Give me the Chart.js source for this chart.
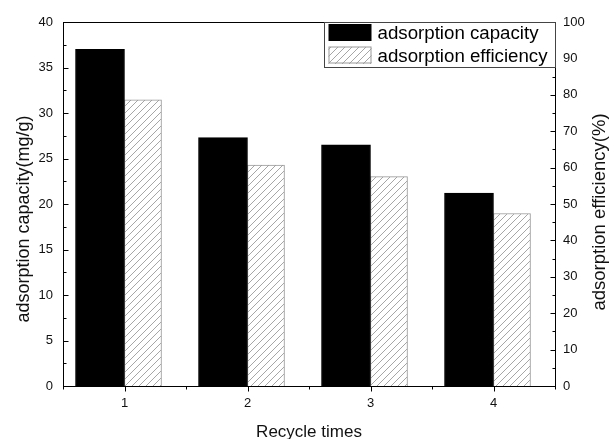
<!DOCTYPE html>
<html>
<head>
<meta charset="utf-8">
<script src="https://cdn.jsdelivr.net/npm/chart.js@4.4.0/dist/chart.umd.min.js"></script>
<style>
  html, body { margin: 0; padding: 0; background: #fff; }
  #wrap { width: 612px; height: 439px; }
</style>
</head>
<body>
<div id="wrap"><canvas id="recycle-plot" width="612" height="439"></canvas></div>
<script>
const recycleTimes = [1, 2, 3, 4];
const capacity = [37.0, 27.3, 26.5, 21.2];     // mg/g
const efficiency = [78.6, 60.7, 57.5, 47.4];   // %
const capacityTicks = [0, 5, 10, 15, 20, 25, 30, 35, 40];
const efficiencyTicks = [0, 10, 20, 30, 40, 50, 60, 70, 80, 90, 100];
const seriesNames = ['adsorption capacity', 'adsorption efficiency'];
const axisTitles = ['Recycle times', 'adsorption capacity(mg/g)', 'adsorption efficiency(%)'];

const FONT = "'Liberation Sans', Arial, sans-serif";
// bar widths in px; the solid bar sits left of the tick, the hatched one right of it
const SOLID_PX = 49, HATCH_PX = 37, CAT_PX = 123;

Chart.defaults.font.family = FONT;

function makeHatch() {
    const c = document.createElement('canvas');
    c.width = 7; c.height = 7;
    const g = c.getContext('2d');
    g.fillStyle = '#fff';
    g.fillRect(0, 0, 7, 7);
    g.strokeStyle = '#a6a6a6';
    g.lineWidth = 1;
    g.beginPath();
    g.moveTo(-1, 8); g.lineTo(8, -1);
    g.moveTo(-1, 1); g.lineTo(1, -1);
    g.moveTo(6, 8); g.lineTo(8, 6);
    g.stroke();
    return g.createPattern(c, 'repeat');
}
const hatch = makeHatch();

function midpoints(arr) {
    let out = [];
    for (let i = 0; i < arr.length - 1; i++) out.push((arr[i] + arr[i + 1]) / 2);
    return out;
}

const setTicks = (vals) => (scale) => { scale.ticks = vals.map(v => ({ value: v })); };

// frame, tick marks, legend and axis titles
const decorations = {
    id: 'decorations',
    afterDraw(chart) {
        const { ctx, chartArea: a, scales } = chart;
        const px = v => Math.round(v) + 0.5;
        const L = px(a.left), R = px(a.right), T = px(a.top), B = px(a.bottom);

        ctx.save();
        ctx.strokeStyle = '#000';
        ctx.lineWidth = 1;
        ctx.beginPath();
        ctx.moveTo(L, T); ctx.lineTo(R, T);

        // left axis, ticks point inwards
        capacityTicks.forEach(v => { const y = px(scales.y.getPixelForValue(v)); ctx.moveTo(L, y); ctx.lineTo(L + 5, y); });
        midpoints(capacityTicks).forEach(v => { const y = px(scales.y.getPixelForValue(v)); ctx.moveTo(L, y); ctx.lineTo(L + 3, y); });
        // right axis, inwards too
        efficiencyTicks.forEach(v => { const y = px(scales.y1.getPixelForValue(v)); ctx.moveTo(R, y); ctx.lineTo(R - 5, y); });
        midpoints(efficiencyTicks).forEach(v => { const y = px(scales.y1.getPixelForValue(v)); ctx.moveTo(R, y); ctx.lineTo(R - 3, y); });
        // bottom axis, outwards
        recycleTimes.forEach(v => { const x = px(scales.x.getPixelForValue(v)); ctx.moveTo(x, B); ctx.lineTo(x, B + 5); });
        let xMinor = [recycleTimes[0] - 0.5].concat(recycleTimes.map(v => v + 0.5));
        xMinor.forEach(v => { const x = px(scales.x.getPixelForValue(v)); ctx.moveTo(x, B); ctx.lineTo(x, B + 3); });
        ctx.stroke();

        // legend box in the top right corner
        const lx = R - 231, ly = T, lh = 45;
        ctx.fillStyle = '#fff';
        ctx.fillRect(lx, ly, R - lx, lh);
        ctx.strokeStyle = '#444';
        ctx.strokeRect(lx, ly, R - lx, lh);
        ctx.fillStyle = '#000';
        ctx.fillRect(lx + 4, ly + 1.5, 43, 17);
        ctx.fillStyle = hatch;
        ctx.fillRect(lx + 4, ly + 24.5, 43, 17);
        ctx.strokeStyle = '#999';
        ctx.strokeRect(lx + 4.5, ly + 24.5, 42, 16);
        ctx.fillStyle = '#000';
        ctx.font = '18.7px ' + FONT;
        ctx.textBaseline = 'middle';
        ctx.textAlign = 'left';
        ctx.fillText(seriesNames[0], lx + 53, ly + 11);
        ctx.fillText(seriesNames[1], lx + 53, ly + 34);

        // axis titles
        ctx.fillStyle = '#111';
        ctx.textBaseline = 'alphabetic';
        ctx.textAlign = 'center';
        ctx.font = '17px ' + FONT;
        ctx.fillText(axisTitles[0], (a.left + a.right) / 2, 436.5);

        ctx.font = '18px ' + FONT;
        ctx.save();
        ctx.translate(28.5, 219);
        ctx.rotate(-Math.PI / 2);
        ctx.fillText(axisTitles[1], 0, 0);
        ctx.restore();

        ctx.font = '18.5px ' + FONT;
        ctx.save();
        ctx.translate(604.5, 212);
        ctx.rotate(-Math.PI / 2);
        ctx.fillText(axisTitles[2], 0, 0);
        ctx.restore();

        ctx.restore();
    }
};

const tickFont = { family: FONT, size: 13 };

new Chart(document.getElementById('recycle-plot'), {
    type: 'bar',
    data: {
        datasets: [
            {
                label: seriesNames[0],
                data: recycleTimes.map((r, i) => ({ x: r - SOLID_PX / CAT_PX / 2, y: capacity[i] })),
                xAxisID: 'x',
                yAxisID: 'y',
                backgroundColor: '#000',
                borderColor: '#000',
                borderWidth: 1,
                grouped: false,
                barThickness: SOLID_PX,
            },
            {
                label: seriesNames[1],
                data: recycleTimes.map((r, i) => ({ x: r + HATCH_PX / CAT_PX / 2, y: efficiency[i] })),
                xAxisID: 'xb',
                yAxisID: 'y1',
                backgroundColor: hatch,
                borderColor: '#999',
                borderWidth: 1,
                grouped: false,
                barThickness: HATCH_PX,
            }
        ]
    },
    options: {
        responsive: false,
        animation: false,
        layout: { padding: { top: 22, left: 0, right: 0, bottom: 0 } },
        plugins: {
            legend: { display: false },
            tooltip: { enabled: false }
        },
        scales: {
            x: {
                type: 'linear',
                position: 'bottom',
                offset: false,
                min: 0.5,
                max: 4.5,
                afterBuildTicks: setTicks(recycleTimes),
                afterFit: s => { s.height = 53; },
                grid: { display: false, drawTicks: false, offset: false },
                border: { display: true, color: '#000', width: 1 },
                ticks: { padding: 10, color: '#111', font: tickFont, maxRotation: 0 }
            },
            xb: {
                type: 'linear',
                display: false,
                offset: false,
                min: 0.5,
                max: 4.5,
                grid: { offset: false },
                afterBuildTicks: setTicks(recycleTimes)
            },
            y: {
                position: 'left',
                min: 0,
                max: 40,
                afterBuildTicks: setTicks(capacityTicks),
                afterFit: s => { s.width = 63; },
                grid: { display: false, drawTicks: false },
                border: { display: true, color: '#000', width: 1 },
                ticks: { padding: 10, color: '#111', font: tickFont }
            },
            y1: {
                position: 'right',
                min: 0,
                max: 100,
                afterBuildTicks: setTicks(efficiencyTicks),
                afterFit: s => { s.width = 57; },
                grid: { display: false, drawTicks: false },
                border: { display: true, color: '#000', width: 1 },
                ticks: { padding: 8, color: '#111', font: tickFont }
            }
        }
    },
    plugins: [decorations]
});
</script>
</body>
</html>
